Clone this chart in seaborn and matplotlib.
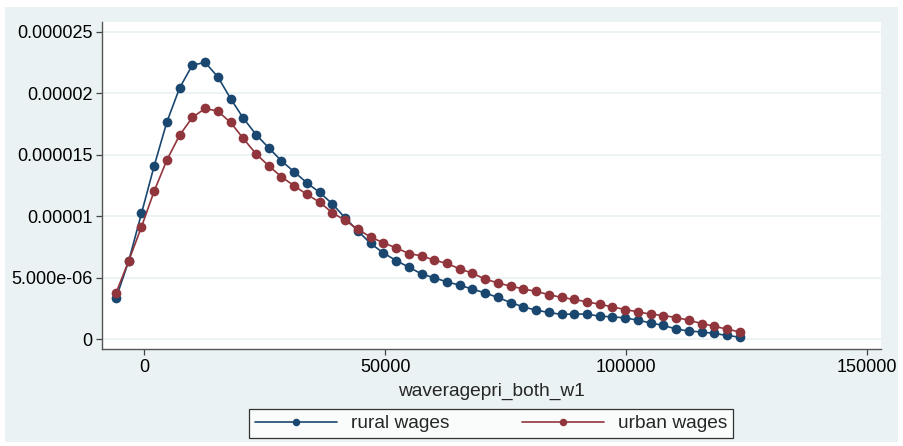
import matplotlib
matplotlib.use("Agg")
import matplotlib.pyplot as plt
from matplotlib.patches import Rectangle
from matplotlib.lines import Line2D
import seaborn as sns
import pandas as pd

# ---- data ----
wage_grid = [-5875, -3232, -589, 2054, 4697, 7340, 9983, 12626, 15269, 17912,
             20555, 23198, 25841, 28484, 31127, 33770, 36413, 39056, 41699, 44342,
             46985, 49628, 52271, 54914, 57557, 60200, 62843, 65486, 68129, 70772,
             73415, 76058, 78701, 81344, 83987, 86630, 89273, 91916, 94559, 97202,
             99845, 102488, 105131, 107774, 110417, 113060, 115703, 118346, 120989, 123632]

rural_density = [3.30, 6.36, 10.22, 14.10, 17.68, 20.45, 22.30, 22.52, 21.34, 19.58,
                 17.98, 16.65, 15.56, 14.50, 13.61, 12.71, 11.93, 11.00, 9.86, 8.80,
                 7.78, 7.01, 6.39, 5.85, 5.30, 4.98, 4.65, 4.38, 4.06, 3.75,
                 3.38, 2.97, 2.61, 2.35, 2.16, 2.00, 2.04, 2.02, 1.86, 1.80,
                 1.72, 1.53, 1.31, 1.10, 0.82, 0.64, 0.58, 0.45, 0.29, 0.15]

urban_density = [3.75, 6.36, 9.13, 12.04, 14.58, 16.60, 18.04, 18.77, 18.55, 17.63,
                 16.33, 15.07, 14.10, 13.20, 12.47, 11.77, 11.14, 10.27, 9.67, 8.92,
                 8.31, 7.83, 7.42, 6.96, 6.77, 6.42, 6.15, 5.71, 5.36, 4.87,
                 4.57, 4.30, 4.08, 3.87, 3.62, 3.38, 3.22, 3.02, 2.83, 2.61,
                 2.40, 2.21, 2.02, 1.91, 1.75, 1.53, 1.26, 1.04, 0.80, 0.58]

series_names = ["rural wages", "urban wages"]
series_colors = ["#1a476f", "#90353b"]

y_ticks = [0, 0.000005, 0.00001, 0.000015, 0.00002, 0.000025]
y_tick_labels = ["0", "5.000e-06", "0.00001", "0.000015", "0.00002", "0.000025"]
x_ticks = [0, 50000, 100000, 150000]
x_tick_labels = ["0", "50000", "100000", "150000"]
x_label = "waveragepri_both_w1"

# ---- build frame ----
df = pd.DataFrame({
    "x": wage_grid * 2,
    "density": [v * 1e-6 for v in rural_density] + [v * 1e-6 for v in urban_density],
    "group": [series_names[0]] * len(wage_grid) + [series_names[1]] * len(wage_grid),
})

sns.set_theme(style="white")
plt.rcParams["font.family"] = ["Liberation Sans", "DejaVu Sans"]

W, H = 904, 446
fig = plt.figure(figsize=(W / 100, H / 100), dpi=100)
fig.patch.set_facecolor("white")
bg = "#eaf2f3"
fig.add_artist(Rectangle((5 / W, (H - 442) / H), (898 - 5) / W, (442 - 7) / H,
                         transform=fig.transFigure, facecolor=bg, edgecolor="none", zorder=-10))

ax = fig.add_axes([102.3 / W, (H - 349) / H, (880.7 - 102.3) / W, (349 - 22) / H])
ax.set_facecolor("white")

for name, col in zip(series_names, series_colors):
    sub = df[df["group"] == name]
    sns.lineplot(data=sub, x="x", y="density", ax=ax, color=col, linewidth=1.2,
                 marker="o", markersize=7.0, markeredgewidth=0, legend=False,
                 estimator=None, sort=False)

ax.set_xlim(-8720, 152900)
ax.set_ylim(-0.814e-6, 25.81e-6)

ax.set_yticks(y_ticks)
ax.set_yticklabels(y_tick_labels)
ax.set_xticks(x_ticks)
ax.set_xticklabels(x_tick_labels)

fs = 13.0
ax.tick_params(axis="both", which="major", direction="out", length=4, width=0.9,
               color="#444444", labelsize=fs, labelcolor="black", pad=3,
               left=True, bottom=True)
ax.grid(axis="y", color=bg, linewidth=1.3)
ax.grid(axis="x", visible=False)
ax.set_axisbelow(True)

for s in ["top", "right"]:
    ax.spines[s].set_visible(False)
for s in ["left", "bottom"]:
    ax.spines[s].set_color("#555555")
    ax.spines[s].set_linewidth(1.0)

ax.set_xlabel(x_label, fontsize=13.8, labelpad=5)
ax.set_ylabel("")

handles = [Line2D([0], [0], color=c, linewidth=1.2, marker="o", markersize=5.4,
                  markeredgewidth=0) for c in series_colors]
leg = fig.legend(handles, series_names, loc="center", ncol=2, mode="expand",
                 bbox_to_anchor=(249 / W, (H - 438) / H, 484 / W, 29 / H),
                 fontsize=13.8, frameon=True, fancybox=False, handlelength=4.3,
                 handletextpad=0.7, columnspacing=2.5, borderpad=0.3,
                 borderaxespad=0, numpoints=1)
leg.get_frame().set_edgecolor("black")
leg.get_frame().set_linewidth(0.9)
leg.get_frame().set_facecolor("white")

fig.savefig("out.png", dpi=100, facecolor=fig.get_facecolor())
